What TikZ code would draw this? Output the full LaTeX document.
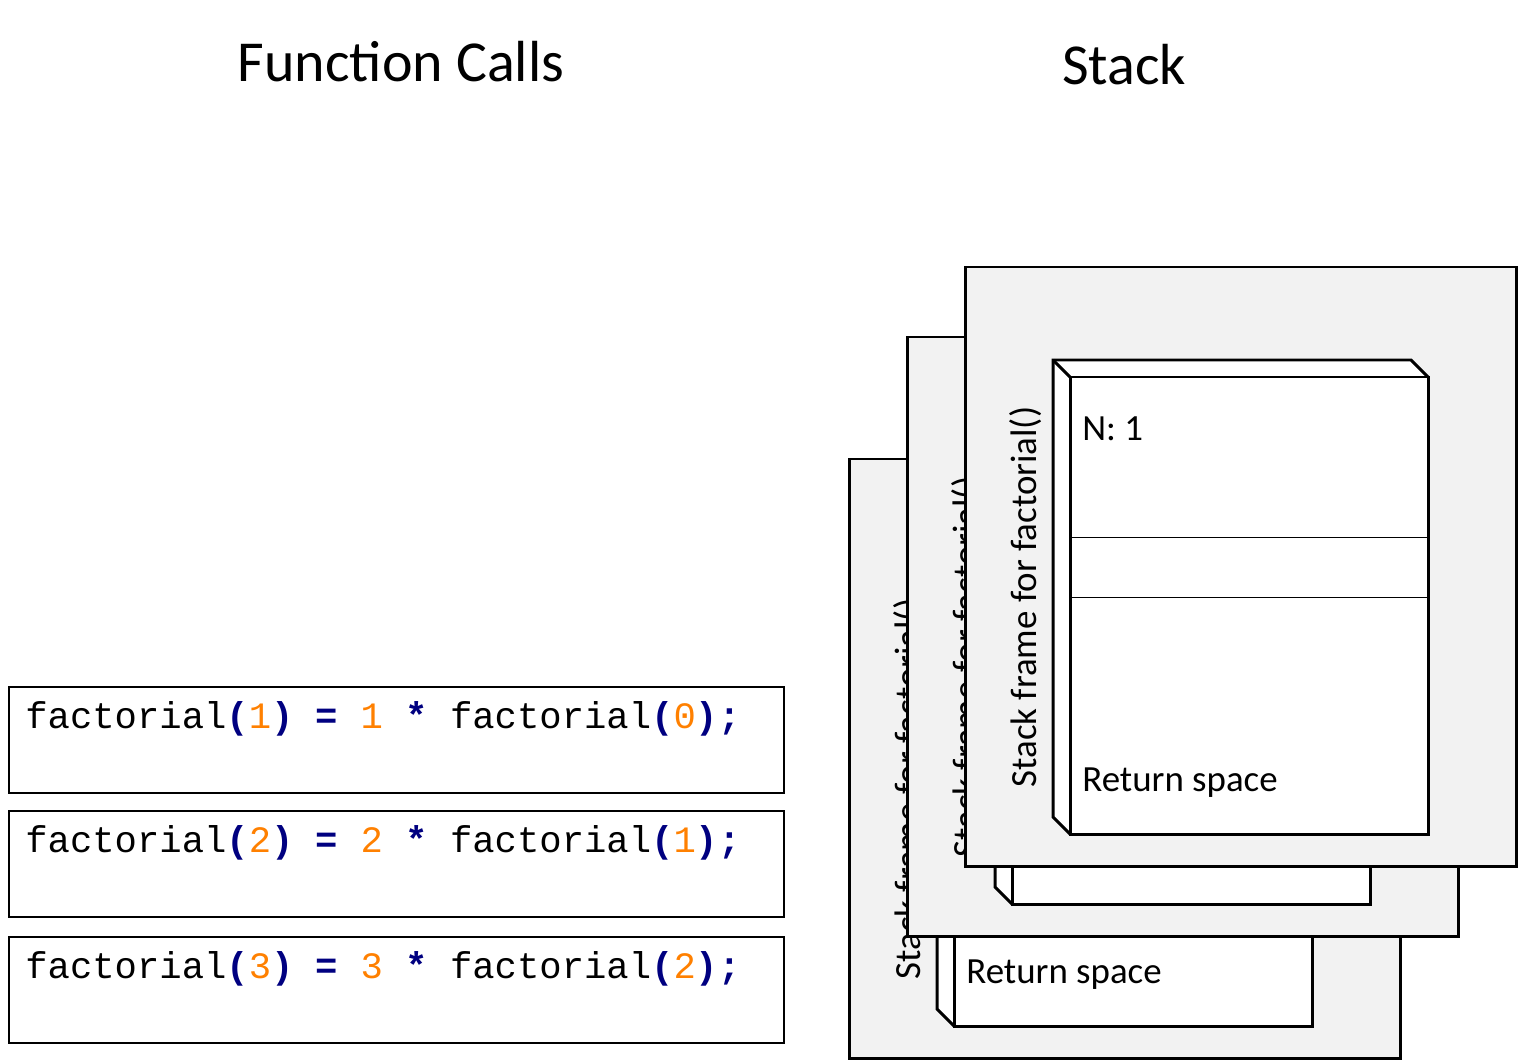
\documentclass[tikz,border=0pt]{standalone}
\usepackage{fontspec}
\setmainfont{Carlito}
\newfontfamily\codefont{Liberation Mono}
\usetikzlibrary{positioning}
\definecolor{codeblue}{RGB}{0,0,128}
\definecolor{codeorange}{RGB}{255,128,0}
\tikzset{
  codebox/.style = {draw, line width=1.3pt, minimum width=775*0.02cm, minimum height=106*0.02cm, anchor=north west},
  codetext/.style = {font=\codefont\fontsize{21.2}{24}\selectfont, anchor=base west, inner sep=0},
  framebox/.style = {draw, line width=1.7pt, fill=black!5},
  slab/.style = {draw, line width=1.7pt, fill=white, line join=miter},
  label/.style = {font=\fontsize{21}{24}\selectfont, anchor=base west, inner sep=0}
}
\newcommand\pn[1]{\textcolor{codeblue}{\textbf{#1}}}
\newcommand\nm[1]{\textcolor{codeorange}{#1}}
\newcommand\callline[2]{factorial\pn{(}\nm{#1}\pn{)} \pn{=} \nm{#1} \pn{*} factorial\pn{(}\nm{#2}\pn{)}\pn{;}}

\begin{document}
\begin{tikzpicture}[x=0.02cm, y=-0.02cm]
  \useasboundingbox (0,0) rectangle (1518,1061);

  % titles
  \node[font=\fontsize{33}{36}\selectfont] (title_calls) at (401,62) {Function Calls};
  \node[font=\fontsize{33}{36}\selectfont] (title_stack) at (1124,65) {Stack};

  % call boxes
  \foreach \y/\a/\b in {686/1/0, 810/2/1, 936/3/2} {
    \node[codebox] (call\a) at (8,\y) {};
    \node[codetext] (calltext\a) at (25,\y+42) {\callline{\a}{\b}};
  }

  % stack frames, back to front
  \foreach \dx/\dy/\n in {-116/192/1, -58/70/2, 0/0/3} {
    \begin{scope}[shift={(\dx,\dy)}]
      \draw[framebox] (965,267) rectangle (1516,866);
      \draw[slab] (1053,360) -- (1411,360) -- (1428,377) -- (1428,834) -- (1070,834) -- (1053,817) -- cycle;
      \draw[slab] (1070,377) rectangle (1428,834);
      \draw[line width=1.7pt] (1053,360) -- (1070,377);
      \draw[thin] (1070,537) -- (1428,537);
      \draw[thin] (1070,597) -- (1428,597);
      \node[label] (ret\n) at (1082,791) {Return space};
      \node[label] (arg\n) at (1082,440) {N: 1};
      \node[font=\fontsize{21}{24}\selectfont, rotate=90] (frame\n) at (1026,597) {Stack frame for factorial()};
    \end{scope}
  }
\end{tikzpicture}
\end{document}
